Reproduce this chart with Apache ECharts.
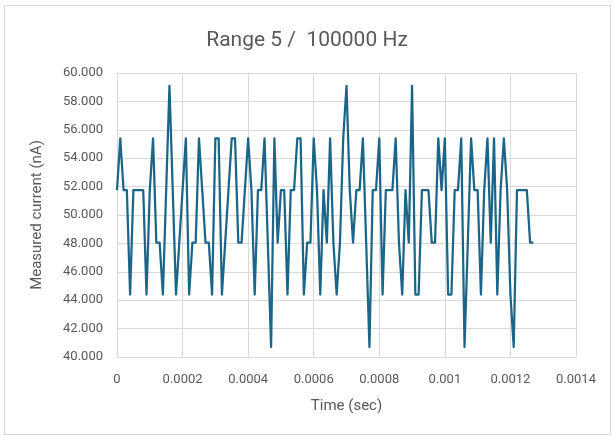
<!DOCTYPE html>
<html>
<head>
<meta charset="utf-8">
<script src="https://cdn.jsdelivr.net/npm/echarts@6/dist/echarts.min.js"></script>
<style>
html,body{margin:0;padding:0;background:#fff;}
#chart{width:614px;height:436px;}
</style>
</head>
<body>
<div id="chart"></div>
<script>
// Chart text
const chartTitle = 'Range 5 /  100000 Hz';
const xAxisTitle = 'Time (sec)';
const yAxisTitle = 'Measured current (nA)';

// Sampling: 100000 Hz -> one sample every 10 microseconds
const sampleInterval = 0.00001;

// Measured current (nA), one value per sample
const currentValues = [
  51.75,55.4,51.75,51.75,44.4,51.75,51.75,51.75,51.75,44.4,
  51.75,55.4,48.05,48.05,44.4,51.75,59.1,51.75,44.4,48.05,
  51.75,55.4,44.4,48.05,48.05,55.4,51.75,48.05,48.05,44.4,
  55.4,55.4,44.4,48.05,51.75,55.4,55.4,48.05,48.05,51.75,
  55.4,51.75,44.4,51.75,51.75,55.4,48.05,40.7,55.4,48.05,
  51.75,51.75,44.4,51.75,51.75,55.4,55.4,44.4,48.05,48.05,
  55.4,51.75,44.4,51.75,48.05,55.4,48.05,44.4,48.05,55.4,
  59.1,51.75,48.05,51.75,51.75,55.4,48.05,40.7,51.75,51.75,
  55.4,44.4,51.75,51.75,51.75,55.4,48.05,44.4,51.75,48.05,
  59.1,44.4,44.4,51.75,51.75,51.75,48.05,48.05,55.4,51.75,
  55.4,44.4,44.4,51.75,51.75,55.4,40.7,48.05,55.4,51.75,
  51.75,44.4,51.75,55.4,48.05,55.4,44.4,51.75,55.4,51.75,
  44.4,40.7,51.75,51.75,51.75,51.75,48.05,48.05
];

// Axis ranges / ticks
const xMin = 0, xMax = 0.0014, xStep = 0.0002;
const yMin = 40, yMax = 60, yStep = 2;

const seriesData = currentValues.map((v, i) => [+(i * sampleInterval).toFixed(6), v]);

const textColor = '#595959';
const gridColor = '#d9d9d9';
const fontFam = '"Liberation Sans Narrow", Roboto, "Open Sans", sans-serif';

const chart = echarts.init(document.getElementById('chart'), null, {renderer: 'canvas'});
chart.setOption({
  animation: false,
  backgroundColor: '#ffffff',
  title: {
    text: chartTitle,
    left: 'center',
    top: 25,
    textStyle: {color: textColor, fontSize: 21, fontWeight: 'normal', fontFamily: fontFam}
  },
  graphic: [{
    type: 'rect',
    shape: {x: 4.5, y: 5.5, width: 606, height: 429},
    style: {fill: 'none', stroke: '#d9d9d9', lineWidth: 1},
    silent: true,
    z: -1
  }],
  grid: {left: 117, right: 38, top: 73, bottom: 79, containLabel: false},
  xAxis: {
    type: 'value',
    min: xMin, max: xMax, interval: xStep,
    name: xAxisTitle,
    nameLocation: 'middle',
    nameGap: 42,
    nameTextStyle: {color: textColor, fontSize: 15, fontFamily: fontFam},
    axisLine: {show: true, lineStyle: {color: gridColor, width: 1}},
    axisTick: {show: false},
    splitLine: {show: true, lineStyle: {color: gridColor, width: 1}},
    axisLabel: {
      color: textColor, fontSize: 13, fontFamily: fontFam, margin: 16,
      formatter: v => String(parseFloat(v.toFixed(4)))
    }
  },
  yAxis: {
    type: 'value',
    min: yMin, max: yMax, interval: yStep,
    name: yAxisTitle,
    nameLocation: 'middle',
    nameGap: 72,
    nameTextStyle: {color: textColor, fontSize: 15, fontFamily: fontFam},
    axisLine: {show: true, lineStyle: {color: gridColor, width: 1}},
    axisTick: {show: false},
    splitLine: {show: true, lineStyle: {color: gridColor, width: 1}},
    axisLabel: {
      color: textColor, fontSize: 13, fontFamily: fontFam, margin: 14,
      formatter: v => v.toFixed(3)
    }
  },
  series: [{
    type: 'line',
    data: seriesData,
    showSymbol: false,
    symbol: 'none',
    lineStyle: {color: '#1b6688', width: 2.25, join: 'round'},
    itemStyle: {color: '#1b6688'}
  }]
});
</script>
</body>
</html>
